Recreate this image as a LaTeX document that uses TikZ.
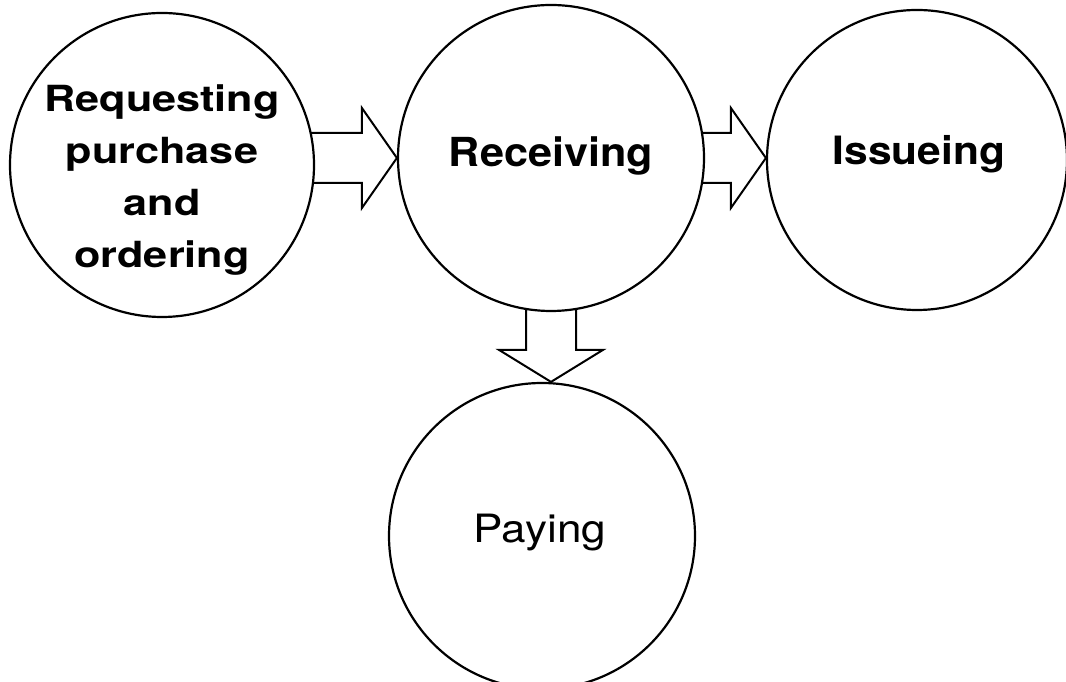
\documentclass[tikz,border=0pt]{standalone}
\usepackage{fontspec}
\usetikzlibrary{calc,backgrounds}
% Helvetica-like faces, widened a little for each label
\newfontfamily\headfont[FakeStretch=1.2]{TeX Gyre Heros}
\newfontfamily\recvfont[FakeStretch=1.08]{TeX Gyre Heros}
\newfontfamily\issuefont[FakeStretch=1.09]{TeX Gyre Heros}
\newfontfamily\payfont[FakeStretch=1.13]{TeX Gyre Heros}

\begin{document}
\begin{tikzpicture}[x=1pt,y=1pt,
  stage/.style={circle, draw, line width=2.2pt, fill=white, inner sep=0pt},
  lbl/.style={inner sep=0pt, align=center},
  blockarrow/.style={draw, line width=2pt, fill=white, line join=miter}]
\useasboundingbox (0,0) rectangle (1066,682);

% process stages
\node[stage, minimum size=304pt] (c1) at (162,517) {};
\node[stage, minimum size=306pt] (c2) at (551,524) {};
\node[stage, minimum size=300pt] (c3) at (917,522) {};
\node[stage, minimum size=306pt] (c4) at (542,146) {};

% labels
\node[lbl, font=\headfont\bfseries\fontsize{36}{52}\selectfont] (t1)
  at ($(c1.center)+(0,-15)$) {Requesting\\purchase\\and\\ordering};
\node[lbl, anchor=base, font=\recvfont\bfseries\fontsize{40}{48}\selectfont] (t2)
  at ($(c2.center)+(0,-9)$) {Receiving};
\node[lbl, anchor=base, font=\issuefont\bfseries\fontsize{39}{47}\selectfont] (t3)
  at ($(c3.center)+(2,-5)$) {Issueing};
\node[lbl, anchor=base, font=\payfont\fontsize{39}{47}\selectfont] (t4)
  at ($(c4.center)+(-2,-7)$) {Paying};

% hollow block arrows, tucked behind the circles
\begin{scope}[on background layer]
  % requesting -> receiving
  \draw[blockarrow]
    ($(c1.center |- c2.west)+(140,25)$) -- ($(c2.west)+(-35,25)$)
    -- ($(c2.west)+(-35,50)$) -- (c2.west)
    -- ($(c2.west)+(-35,-50)$) -- ($(c2.west)+(-35,-25)$)
    -- ($(c1.center |- c2.west)+(140,-25)$);
  % receiving -> issueing
  \coordinate (tipB) at (c3.west |- c2.center);
  \draw[blockarrow]
    ($(c2.center)+(140,25)$) -- ($(tipB)+(-35,25)$)
    -- ($(tipB)+(-35,50)$) -- (tipB)
    -- ($(tipB)+(-35,-50)$) -- ($(tipB)+(-35,-25)$)
    -- ($(c2.center)+(140,-25)$);
  % receiving -> paying
  \coordinate (tipC) at (c2.south |- c4.north);
  \draw[blockarrow]
    ($(c2.center)+(-25,-140)$) -- ($(tipC)+(-25,32)$)
    -- ($(tipC)+(-52,32)$) -- (tipC)
    -- ($(tipC)+(52,32)$) -- ($(tipC)+(25,32)$)
    -- ($(c2.center)+(25,-140)$);
\end{scope}
\end{tikzpicture}
\end{document}
